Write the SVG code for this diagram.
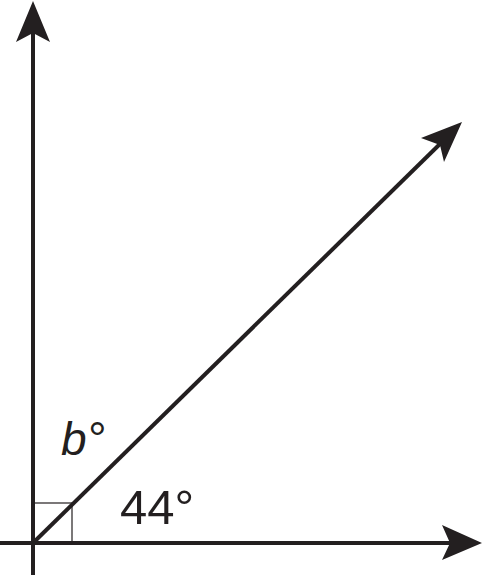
<svg xmlns="http://www.w3.org/2000/svg" width="483" height="575" viewBox="0 0 483 575">
<style>
.ax{stroke:#231f20;stroke-width:4;fill:none}
.head{fill:#231f20}
.lbl{font-family:"Liberation Sans",Arial,sans-serif;fill:#231f20}
</style>
<rect width="483" height="575" fill="#fff"/>
<g id="connectors">
<line class="ax" x1="33" y1="575" x2="33" y2="30"/>
<polygon class="head" points="33,1 50,42 33,33 16,42"/>
<line class="ax" x1="0" y1="543" x2="455" y2="543"/>
<polygon class="head" points="482,543 442,560 450,543 442,525"/>
<line class="ax" x1="33" y1="543" x2="442" y2="142"/>
<polygon class="head" points="462,122 444,162 440,145 421,138"/>
<rect x="33" y="503" width="39" height="40" fill="none" stroke="#231f20" stroke-width="1.2"/>
</g>
<g id="label-b"><text class="lbl" x="61" y="455" font-size="46" font-style="italic">b°</text></g>
<g id="label-44"><text class="lbl" x="120" y="524" font-size="49">44°</text></g>
</svg>
